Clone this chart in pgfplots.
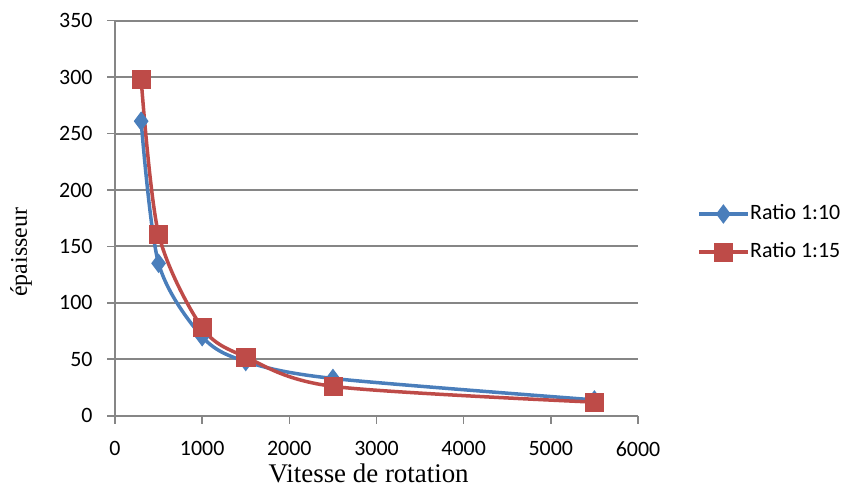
\documentclass[border=0pt]{standalone}
\usepackage{pgfplots}
\pgfplotsset{compat=1.18}
\usepackage{fontspec}
\setmainfont{Liberation Serif}
\newfontfamily\calibri{Carlito}
\definecolor{xlblue}{HTML}{4A7EBB}
\definecolor{xlred}{HTML}{BE4B48}
\definecolor{xlgrid}{HTML}{868686}
\begin{document}
\begin{tikzpicture}
\path[use as bounding box] (0,0) rectangle (844bp,487bp);
\begin{axis}[
  at={(115bp,71.3bp)}, anchor=south west,
  scale only axis, width=523bp, height=395bp,
  xmin=0, xmax=6000, ymin=0, ymax=350,
  xtick={0,1000,...,6000}, ytick={0,50,...,350},
  axis x line=bottom, axis y line=left,
  axis line style={xlgrid, line width=2bp, -},
  ymajorgrids, grid style={xlgrid, line width=2bp},
  tick align=outside, major tick length=8bp,
  xtick style={xlgrid, line width=1.6bp},
  ytick style={xlgrid, line width=1.6bp},
  /pgf/number format/assume math mode=true,
  /pgf/number format/1000 sep={},
  ticklabel style={font=\calibri\fontsize{22}{22}\selectfont},
  yticklabel style={xshift=-11bp},
  xticklabel style={yshift=-14bp},
  xlabel={Vitesse de rotation}, ylabel={épaisseur},
  xlabel style={at={(axis description cs:0.485,0)}, anchor=base, yshift=-67bp, font=\fontsize{27}{27}\selectfont},
  ylabel style={at={(axis description cs:0,0.414)}, anchor=base, yshift=88bp, font=\fontsize{24}{24}\selectfont},
  legend style={draw=none, fill=none, at={(rel axis cs:1.108,0.4625)}, anchor=west,
    font=\calibri\fontsize{22}{22}\selectfont, row sep=17bp,
    nodes={inner sep=1bp, text height=15bp, text depth=4bp}},
  legend cell align=left,
  legend image code/.code={\draw[mark repeat=2,mark phase=2] plot coordinates {(0bp,0bp) (24bp,0bp) (48bp,0bp)};},
]
\addplot[xlblue, line width=3.5bp, smooth, mark=diamond*, mark size=9bp, mark options={solid, fill=xlblue, line width=1bp}]
  coordinates {(300,261) (500,135) (1000,70) (1500,48) (2500,33) (5500,14)};
\addlegendentry{Ratio 1:10}
\addplot[xlred, line width=3.5bp, smooth, mark=square*, mark size=9bp, mark options={solid, fill=xlred, line width=0.5bp}]
  coordinates {(300,298) (500,161) (1000,78) (1500,52) (2500,26) (5500,12)};
\addlegendentry{Ratio 1:15}
\end{axis}
\end{tikzpicture}
\end{document}
